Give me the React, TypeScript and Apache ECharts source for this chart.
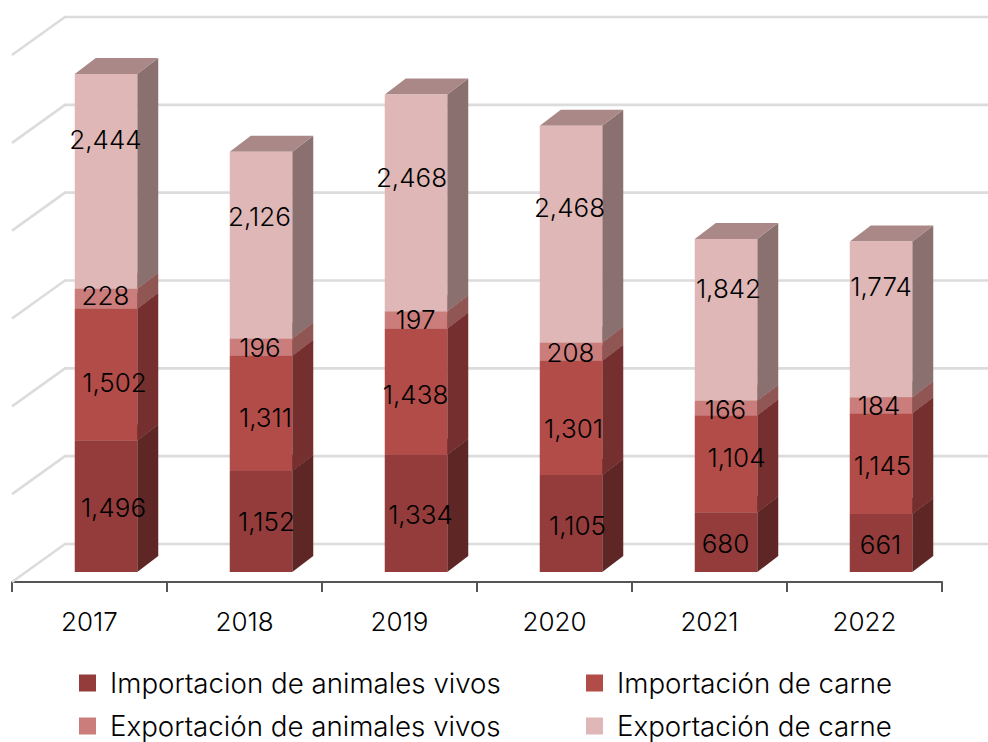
import React, { useEffect, useRef } from "react";
import * as echarts from "echarts";

const years = ["2017", "2018", "2019", "2020", "2021", "2022"];
const gridTicks = [0, 1000, 2000, 3000, 4000, 5000, 6000];
const seriesNames = [
  "Importacion de animales vivos",
  "Importación de carne",
  "Exportación de animales vivos",
  "Exportación de carne",
];
const importAnimals = [1496, 1152, 1334, 1105, 680, 661];
const importMeat = [1502, 1311, 1438, 1301, 1104, 1145];
const exportAnimals = [228, 196, 197, 208, 166, 184];
const exportMeat = [2444, 2126, 2468, 2468, 1842, 1774];
const stacks = [importAnimals, importMeat, exportAnimals, exportMeat];

const FONT = "Inter";
const frontColors = ["#933c3b", "#b24c48", "#cb7d7c", "#deb7b6"];
const sideColors = ["#5e2625", "#742f2e", "#8f5654", "#8a7170"];
const topColors = ["#7a3231", "#8f3d3b", "#a56563", "#a98887"];

// pseudo-3D layout (pixels)
const WALL_DX = 53;
const WALL_DY = -38;
const BAR_DX = 21;
const BAR_DY = -16;
const BAR_W = 62.5;
const BAR_SHIFT_X = 16.5;
const BAR_SHIFT_Y = -10;

// label nudges from the middle of each segment's front face (pixels)
const labelDx = [
  [7.5, 5.5, 4.5, 6.5, -0.5, -0.5],
  [8.5, 4.5, -0.5, 2.5, 10.5, 1.5],
  [-0.5, -1, -0.5, -0.5, -0.5, -2],
  [-0.5, -1.5, -4.5, -1.5, 2.5, 0],
];
const labelDy = [
  [1.5, 0.5, 1.5, 2.5, 1.5, 1.5],
  [7.5, 4.5, 2.5, 10.5, -6.5, 1.5],
  [-3.5, 0.5, -0.5, 0.5, 1.5, 0.5],
  [-41.5, -28.5, -25.5, -26.5, -31.5, -32.5],
];

const wallSeries: any = {
  type: "custom",
  name: "wall",
  silent: true,
  z: 1,
  coordinateSystem: "cartesian2d",
  data: gridTicks.map((v) => [0, v]),
  renderItem: (params: any, api: any) => {
    const p = api.coord([0, api.value(1)]);
    const left = params.coordSys.x;
    return {
      type: "polyline",
      shape: {
        points: [
          [left, p[1]],
          [left + WALL_DX, p[1] + WALL_DY],
          [988, p[1] + WALL_DY],
        ],
      },
      style: { fill: "none", stroke: "#dcdcdc", lineWidth: 2.6 },
    };
  },
};

const barSeries: any[] = stacks.map((values, s) => ({
  type: "custom",
  name: seriesNames[s],
  coordinateSystem: "cartesian2d",
  z: 2 + s,
  itemStyle: { color: frontColors[s] },
  data: values.map((v, i) => {
    const base = stacks.slice(0, s).reduce((sum, arr) => sum + arr[i], 0);
    return [i, base, base + v, v];
  }),
  renderItem: (_p: any, api: any) => {
    const i = api.value(0);
    const b = api.coord([i, api.value(1)]);
    const t = api.coord([i, api.value(2)]);
    const x0 = b[0] + BAR_SHIFT_X - BAR_W / 2;
    const x1 = x0 + BAR_W;
    const y0 = b[1] + BAR_SHIFT_Y;
    const y1 = t[1] + BAR_SHIFT_Y;
    return {
      type: "group",
      children: [
        {
          type: "polygon",
          shape: {
            points: [
              [x1, y0],
              [x1 + BAR_DX, y0 + BAR_DY],
              [x1 + BAR_DX, y1 + BAR_DY],
              [x1, y1],
            ],
          },
          style: { fill: sideColors[s] },
        },
        {
          type: "polygon",
          shape: {
            points: [
              [x0, y1],
              [x0 + BAR_DX, y1 + BAR_DY],
              [x1 + BAR_DX, y1 + BAR_DY],
              [x1, y1],
            ],
          },
          style: { fill: topColors[s] },
        },
        {
          type: "rect",
          shape: { x: x0, y: y1, width: BAR_W, height: y0 - y1 },
          style: { fill: frontColors[s] },
        },
      ],
    };
  },
}));

const labelSeries: any = {
  type: "custom",
  name: "labels",
  silent: true,
  coordinateSystem: "cartesian2d",
  z: 10,
  data: stacks.flatMap((values, s) =>
    values.map((v, i) => {
      const base = stacks.slice(0, s).reduce((sum, arr) => sum + arr[i], 0);
      return [i, base + v / 2, v, s];
    })
  ),
  renderItem: (_p: any, api: any) => {
    const i = api.value(0);
    const s = api.value(3);
    const c = api.coord([i, api.value(1)]);
    return {
      type: "text",
      z2: 100,
      style: {
        x: c[0] + BAR_SHIFT_X + labelDx[s][i],
        y: c[1] + BAR_SHIFT_Y + labelDy[s][i],
        text: Number(api.value(2)).toLocaleString("en-US"),
        fill: "#000000",
        font: `300 26px ${FONT}`,
        align: "center",
        verticalAlign: "middle",
      },
    };
  },
};

const legendSpots = [
  { left: 74, top: 664 },
  { left: 581, top: 664 },
  { left: 74, top: 707 },
  { left: 581, top: 707 },
];

export default function App() {
  const ref = useRef<HTMLDivElement>(null);
  useEffect(() => {
    const chart = echarts.init(ref.current!, undefined, { renderer: "svg" });
    chart.setOption({
      animation: false,
      backgroundColor: "#ffffff",
      grid: { left: 12, top: 55, width: 930, height: 527 },
      xAxis: {
        type: "category",
        data: years,
        axisLine: { lineStyle: { color: "#555555", width: 2 } },
        axisTick: { show: true, length: 10, lineStyle: { color: "#555555", width: 2 } },
        axisLabel: {
          color: "#000000",
          fontSize: 26,
          fontWeight: 300,
          fontFamily: FONT,
          margin: 26,
        },
        splitLine: { show: false },
      },
      yAxis: {
        type: "value",
        min: 0,
        max: 6000,
        interval: 1000,
        axisLine: { show: false },
        axisTick: { show: false },
        axisLabel: { show: false },
        splitLine: { show: false },
      },
      legend: legendSpots.map((spot, i) => ({
        ...spot,
        orient: "horizontal",
        data: [{ name: seriesNames[i], icon: "rect" }],
        itemWidth: 17,
        itemHeight: 17,
        selectedMode: false,
        textStyle: {
          color: "#000000",
          fontSize: 27.7,
          fontWeight: 300,
          fontFamily: FONT,
          padding: [0, 0, 0, 9],
        },
      })),
      series: [wallSeries, ...barSeries, labelSeries],
    });
    return () => chart.dispose();
  }, []);
  return (
    <div
      ref={ref}
      style={{ position: "fixed", left: 0, top: 0, width: 988, height: 742 }}
    />
  );
}
